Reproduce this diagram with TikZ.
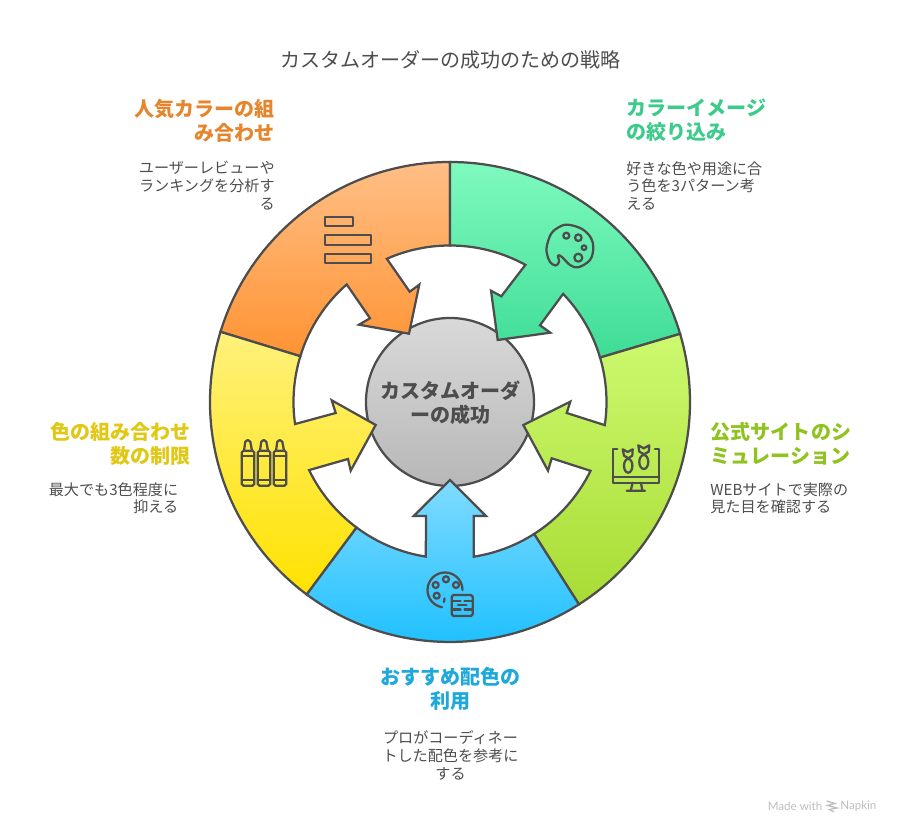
\documentclass[tikz,border=0pt]{standalone}
\usepackage{fontspec}
\setmainfont{Noto Sans CJK JP}
\newfontfamily\markfont{Lato}
\definecolor{inkgray}{HTML}{4D4D4D}
\definecolor{orangetext}{HTML}{E5862F}
\definecolor{greentext}{HTML}{3CCB8A}
\definecolor{limetext}{HTML}{8FC31F}
\definecolor{bluetext}{HTML}{1EA8DC}
\definecolor{yellowtext}{HTML}{E0C815}
\definecolor{markgray}{HTML}{BDBDBD}
\tikzset{
    ringpart/.style={draw=inkgray, line width=0.045cm, line join=miter},
    iconline/.style={draw=inkgray, line width=0.045cm, line join=round, line cap=round},
    headtext/.style={inner sep=0pt, font=\fontsize{11.4}{13.8}\selectfont\bfseries},
    bodytext/.style={inner sep=0pt, text=inkgray, font=\fontsize{8.6}{10.2}\selectfont},
}
\begin{document}
\begin{tikzpicture}[x=0.02cm, y=0.02cm]
                \useasboundingbox (0,0) rectangle (900,834);
                \scope[shift={(450,432)}]
                    \draw[ringpart, top color=black!15, bottom color=black!28] (0,0) circle (84);
                    \draw[ringpart, top color={rgb,255:red,255;green,191;blue,134}, bottom color={rgb,255:red,255;green,147;blue,51}]
                        (90:240) arc[start angle=90, end angle=163, radius=240] -- (163:156.5)
                        arc[start angle=163, end angle=131.3, radius=156.5]
                        -- (-80,83.7) -- (-91,77.3) -- (-41,68.3) -- (-30.7,117.3) -- (-40.3,110.3) -- (113.8:156.5)
                        arc[start angle=113.8, end angle=90, radius=156.5] -- cycle;
                    \draw[ringpart, top color={rgb,255:red,127;green,250;blue,191}, bottom color={rgb,255:red,62;green,220;blue,150}]
                        (90:240) arc[start angle=90, end angle=16.5, radius=240] -- (16.5:156.5)
                        arc[start angle=16.5, end angle=43.7, radius=156.5]
                        -- (90,76.7) -- (100.3,69.3) -- (47.7,62) -- (41,111.3) -- (51.3,105.7) -- (61.2:156.5)
                        arc[start angle=61.2, end angle=90, radius=156.5] -- cycle;
                    \draw[ringpart, top color={rgb,255:red,205;green,249;blue,111}, bottom color={rgb,255:red,168;green,220;blue,52}]
                        (16.5:240) arc[start angle=16.5, end angle=-57.5, radius=240] -- (-57.5:156.5)
                        arc[start angle=-57.5, end angle=-26.1, radius=156.5]
                        -- (101.7,-56.3) -- (98,-68.7) -- (73.3,-23) -- (120.3,0.3) -- (116.7,-11) -- (-8.5:156.5)
                        arc[start angle=-8.5, end angle=16.5, radius=156.5] -- cycle;
                    \draw[ringpart, top color={rgb,255:red,128;green,219;blue,255}, bottom color={rgb,255:red,23;green,190;blue,255}]
                        (-57.5:240) arc[start angle=-57.5, end angle=-126.7, radius=240] -- (-126.7:156.5)
                        arc[start angle=-126.7, end angle=-98.9, radius=156.5]
                        -- (-24,-114) -- (-36.3,-114) -- (0,-78) -- (36,-114) -- (23.7,-114) -- (-81.3:156.5)
                        arc[start angle=-81.3, end angle=-57.5, radius=156.5] -- cycle;
                    \draw[ringpart, top color={rgb,255:red,255;green,241;blue,124}, bottom color={rgb,255:red,255;green,226;blue,0}]
                        (-126.7:240) arc[start angle=233.3, end angle=163, radius=240] -- (163:156.5)
                        arc[start angle=163, end angle=188.1, radius=156.5]
                        -- (-114.3,-11) -- (-118.3,1.7) -- (-74.3,-23) -- (-99.3,-68.7) -- (-102,-57) -- (205.8:156.5)
                        arc[start angle=205.8, end angle=233.3, radius=156.5] -- cycle;
                \endscope
                \scope[shift={(0,834)}, yscale=-1]
                    % icons
                    \draw[iconline] (325,216.7) rectangle (352.7,226);
                    \draw[iconline] (325,235.3) rectangle (371.3,244.7);
                    \draw[iconline] (325,253.7) rectangle (371.3,263);
                    \draw[iconline] plot[smooth cycle, tension=0.6] coordinates {(568,224.7) (582,229) (591,238) (593.3,248.3) (590,260) (578.3,267.3) (570,265) (562,257) (558,255.5) (559,262) (555.5,265.5) (550,262) (547,254) (546.7,246.7) (551,234) (559,227)};
                    \draw[iconline] (566.3,235.7) circle (3) (578.3,237.7) circle (3.3) (584,247.7) circle (2.3) (578.3,257.7) circle (4);
                    \foreach \cx in {248,264,280} {
                        \draw[iconline, rounded corners=1] (\cx-6.3,450.7) rectangle (\cx+6.3,485.7);
                        \draw[iconline] (\cx-6.3,455.7) -- (\cx+6.3,455.7) (\cx-6.3,480) -- (\cx+6.3,480);
                        \draw[iconline] (\cx-4,450.7) -- (\cx-2.7,441.7) -- (\cx-0.3,440) -- (\cx+2.3,441.7) -- (\cx+4,450.7);
                    }
                    \draw[iconline] (617.3,448.7) -- (612.7,448.7) -- (612.7,482.7) -- (659.3,482.7) -- (659.3,448.7) -- (655,448.7);
                    \draw[iconline] (612.7,476.7) -- (659.3,476.7);
                    \draw[iconline] (632.7,482.7) -- (630.7,490.7) (641,482.7) -- (642.3,490.7) (626.7,490.7) -- (645,490.7);
                    \draw[iconline] (622.7,449.3) -- (627.7,452) -- (632.7,449.3) -- (632.3,455.7) -- (628.3,458.3) -- (624,455.7) -- cycle;
                    \draw[iconline] (628.2,465.8) ellipse (4.2 and 6.9);
                    \draw[iconline] (638.3,445.3) -- (643.7,448.3) -- (649.3,445.3) -- (648.7,451.7) -- (644,454.3) -- (639.3,451.7) -- cycle;
                    \draw[iconline] (643.8,462) ellipse (4.5 and 7);
                    \draw[iconline] (462.5,590) arc[start angle=0, end angle=-260, radius=17.5];
                    \draw[iconline] (435.7,585) circle (3) (446,579.3) circle (3) (456,585) circle (3) (436.7,595.7) circle (3);
                    \draw[iconline] (444.5,598.5) -- (444,602);
                    \draw[iconline, rounded corners=1] (451.7,595) rectangle (472.7,616);
                    \draw[iconline] (451.7,601) -- (460.5,601) (464.5,601) -- (472.7,601) (458,605) -- (466.5,605) (451.7,609.5) -- (460.5,609.5) (464.5,609.5) -- (472.7,609.5);
                    % texts
                    \node[inner sep=0pt, text=inkgray, font=\fontsize{11.4}{14}\selectfont] (titlelabel) at (450.5,60) {カスタムオーダーの成功のための戦略};
                    \node[headtext, text=inkgray, align=center] (hublabel) at (450.5,402.5) {カスタムオーダ\\ーの成功};
                    \node[headtext, text=orangetext, align=right, anchor=north east] (orangehead) at (275,98.5) {人気カラーの組\\み合わせ};
                    \node[bodytext, align=right, anchor=north east] (orangebody) at (275,161) {ユーザーレビューや\\ランキングを分析す\\る};
                    \node[headtext, text=greentext, align=left, anchor=north west] (greenhead) at (626,98.5) {カラーイメージ\\の絞り込み};
                    \node[bodytext, align=left, anchor=north west] (greenbody) at (626,161) {好きな色や用途に合\\う色を3パターン考\\える};
                    \node[headtext, text=limetext, align=left, anchor=north west] (limehead) at (710.5,422) {公式サイトのシ\\ミュレーション};
                    \node[bodytext, align=left, anchor=north west] (limebody) at (710,482) {WEBサイトで実際の\\見た目を確認する};
                    \node[headtext, text=yellowtext, align=right, anchor=north east] (yellowhead) at (191,422) {色の組み合わせ\\数の制限};
                    \node[bodytext, align=right, anchor=north east] (yellowbody) at (178.5,482) {最大でも3色程度に\\抑える};
                    \node[headtext, text=bluetext, align=center, anchor=north] (bluehead) at (450.5,667) {おすすめ配色の\\利用};
                    \node[bodytext, align=center, anchor=north] (bluebody) at (450.5,730) {プロがコーディネー\\トした配色を参考に\\する};
                    \node[inner sep=0pt, text=markgray, font=\fontsize{6.6}{7}\markfont, anchor=west] (marktext) at (767.5,806) {Made with};
                    \node[inner sep=0pt, text=markgray, font=\fontsize{6.6}{7}\markfont, anchor=west] (markname) at (840,806) {Napkin};
                    \draw[markgray, line width=0.025cm] (826.5,801) -- (835,803.5) -- (827.5,805.5) -- (837,808) -- (829.5,809.5) -- (834,812);
                \endscope
            \end{tikzpicture}
\end{document}
